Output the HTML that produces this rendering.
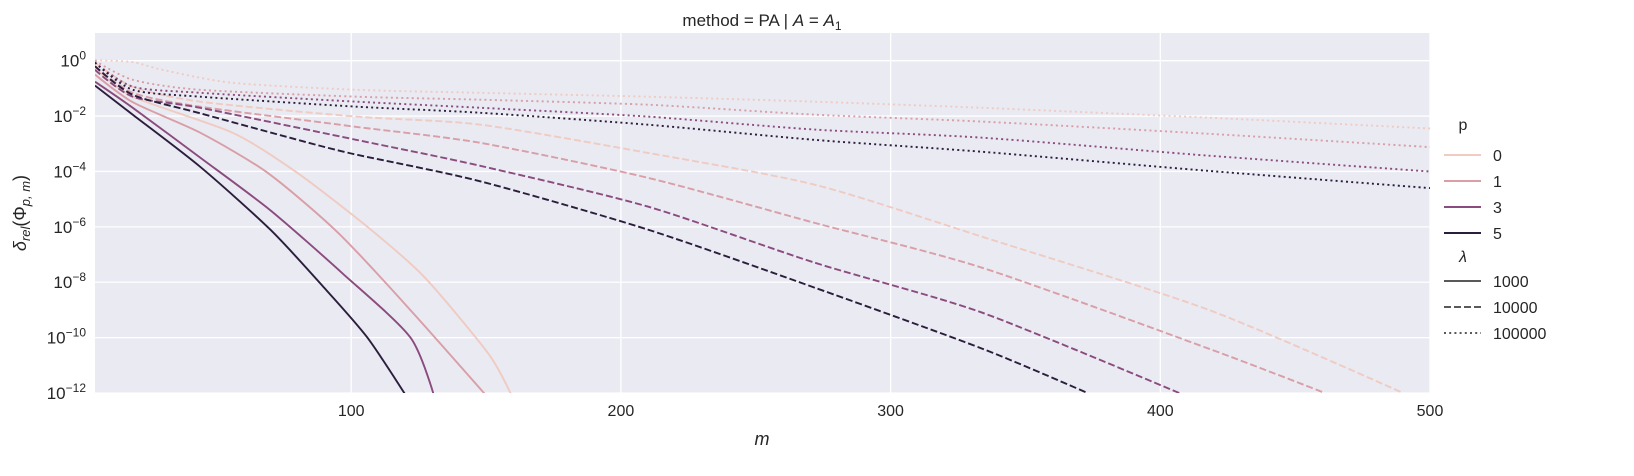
<!DOCTYPE html>
<html><head><meta charset="utf-8"><style>
body{margin:0;background:#fff;}
svg{display:block;font-family:"Liberation Sans","DejaVu Sans",sans-serif;}
</style></head><body>
<svg id="chart" width="1634" height="476" viewBox="0 0 1634 476">
<rect x="95" y="33" width="1335" height="360" fill="#eaeaf2"/>
<g id="grid"></g>
<g id="lines" clip-path="url(#clip)"></g>
<defs><clipPath id="clip"><rect x="95" y="33" width="1335" height="360"/></clipPath></defs>
<g id="ticks" font-size="16" fill="#262626"></g>
<text x="762" y="26" text-anchor="middle" font-size="17" fill="#262626">method = PA | <tspan font-style="italic">A</tspan> = <tspan font-style="italic">A</tspan><tspan font-size="12" dy="4">1</tspan></text>
<text x="762" y="445" text-anchor="middle" font-size="18" font-style="italic" fill="#262626">m</text>
<text transform="translate(26,213) rotate(-90)" text-anchor="middle" font-size="18" fill="#262626"><tspan font-style="italic">δ</tspan><tspan font-style="italic" font-size="13" dy="4">rel</tspan><tspan dy="-4">(Φ</tspan><tspan font-style="italic" font-size="13" dy="4">p, m</tspan><tspan dy="-4">)</tspan></text>
<g id="legend" font-size="16" fill="#262626"></g>
</svg>
<script>
const xTicks=[100,200,300,400,500];
const yTickExps=[0,-2,-4,-6,-8,-10,-12];
const pLevels=["0","1","3","5"];
const lambdaLevels=["1000","10000","100000"];
const colors=["#efcbc2","#d99ea6","#8b4b7e","#2b1d3c"];
// solid, lambda=1000
const m_s0=[5,19,56,80,106,127,151,160];const log_s0=[-0.25,-1.3,-2.6,-4.05,-6.0,-7.8,-10.6,-12.2];
const m_s1=[5,19,44,69,95,121,151];const log_s1=[-0.5,-1.5,-2.6,-4.05,-6.2,-8.9,-12.2];
const m_s3=[5,19,44,70,97,122,131];const log_s3=[-0.76,-1.7,-3.5,-5.4,-7.7,-10.0,-12.2];
const m_s5=[5,19,44,70,90,106,121];const log_s5=[-0.9,-1.95,-3.83,-6.1,-8.2,-10.0,-12.2];
// dashed, lambda=10000
const m_d0=[5,19,44,102,148,210,272,334,418,490];const log_d0=[-0.07,-0.94,-1.48,-2.02,-2.31,-3.33,-4.48,-6.36,-9.0,-12];
const m_d1=[5,19,44,102,148,210,272,334,418,461];const log_d1=[-0.2,-1.16,-1.66,-2.39,-2.97,-4.23,-5.86,-7.48,-10.4,-12];
const m_d3=[5,19,44,102,148,210,272,334,407];const log_d3=[-0.33,-1.3,-1.7,-2.86,-3.8,-5.27,-7.3,-9.1,-12];
const m_d5=[5,19,44,76,100,148,210,272,334,373];const log_d5=[-0.2,-1.23,-1.9,-2.75,-3.35,-4.36,-6.1,-8.2,-10.4,-12];
// dotted, lambda=100000
const m_o0=[5,19,30,56,102,148,210,272,334,418,500];const log_o0=[0.02,-0.05,-0.33,-0.8,-1.05,-1.16,-1.3,-1.48,-1.7,-2.06,-2.45];
const m_o1=[5,19,44,102,148,210,272,334,418,500];const log_o1=[0,-0.69,-1.05,-1.3,-1.41,-1.59,-1.95,-2.2,-2.64,-3.12];
const m_o3=[5,19,44,102,148,210,272,334,418,500];const log_o3=[-0.07,-0.94,-1.16,-1.48,-1.7,-2.02,-2.49,-2.78,-3.43,-4.0];
const m_o5=[5,19,44,102,148,210,272,334,418,500];const log_o5=[-0.07,-1.05,-1.3,-1.66,-1.88,-2.31,-2.86,-3.29,-3.98,-4.6];

const NS="http://www.w3.org/2000/svg";
const X0=95,X1=1430,Y0=33,Y1=393,MMIN=5,MMAX=500,EMAX=1,EMIN=-12;
function xs(m){return X0+(m-MMIN)/(MMAX-MMIN)*(X1-X0);}
function ys(e){return Y0+(EMAX-e)/(EMAX-EMIN)*(Y1-Y0);}
function mk(tag,attrs,parent){const el=document.createElementNS(NS,tag);for(const k in attrs)el.setAttribute(k,attrs[k]);parent.appendChild(el);return el;}
function smoothPath(P){
  let d='M'+P[0][0].toFixed(1)+','+P[0][1].toFixed(1);
  for(let i=0;i<P.length-1;i++){
    const p0=P[Math.max(0,i-1)],p1=P[i],p2=P[i+1],p3=P[Math.min(P.length-1,i+2)];
    const t=(i===0)?0:1/8, t2=(i+1===P.length-1)?0:1/8;
    const c1=[p1[0]+(p2[0]-p0[0])*t,p1[1]+(p2[1]-p0[1])*t];
    const c2=[p2[0]-(p3[0]-p1[0])*t2,p2[1]-(p3[1]-p1[1])*t2];
    d+=' C'+c1[0].toFixed(1)+','+c1[1].toFixed(1)+' '+c2[0].toFixed(1)+','+c2[1].toFixed(1)+' '+p2[0].toFixed(1)+','+p2[1].toFixed(1);
  }
  return d;
}
const grid=document.getElementById('grid'),ticks=document.getElementById('ticks');
xTicks.forEach(t=>{
  const l=mk('line',{x1:xs(t),x2:xs(t),y1:Y0,y2:Y1,stroke:'#fff','stroke-width':1.3},grid);
  
  
  const tx=mk('text',{x:xs(t),y:416,'text-anchor':'middle'},ticks);tx.textContent=t;
  
  
});
yTickExps.forEach(e=>{
  const l=mk('line',{x1:X0,x2:X1,y1:ys(e),y2:ys(e),stroke:'#fff','stroke-width':1.3},grid);
  
  
  const tx=mk('text',{x:86,y:ys(e)+6,'text-anchor':'end','font-size':17},ticks);
  tx.innerHTML='10<tspan font-size="12" dy="-7">'+(e<0?'\u2212'+(-e):e)+'</tspan>';
  
  
});
const lines=document.getElementById('lines');
const dashes=['', '7,3', '2,3.2'];
const series=[
 [m_s0,log_s0,0,0],[m_s1,log_s1,1,0],[m_s3,log_s3,2,0],[m_s5,log_s5,3,0],
 [m_d0,log_d0,0,1],[m_d1,log_d1,1,1],[m_d3,log_d3,2,1],[m_d5,log_d5,3,1],
 [m_o0,log_o0,0,2],[m_o1,log_o1,1,2],[m_o3,log_o3,2,2],[m_o5,log_o5,3,2]];
series.forEach(([ms,ls,c,d])=>{
  const P=ms.map((m,i)=>[xs(m),ys(ls[i])]);
  const a={d:smoothPath(P),fill:'none',stroke:colors[c],'stroke-width':1.9,'stroke-linejoin':'round'};
  if(dashes[d])a['stroke-dasharray']=dashes[d];
  const p=mk('path',a,lines);
  
  
});
const lg=document.getElementById('legend');
let t=mk('text',{x:1463,y:130,'text-anchor':'middle'},lg);t.textContent='p';


pLevels.forEach((p,i)=>{
  const y=155+i*26;
  const l=mk('line',{x1:1444,x2:1481,y1:y,y2:y,stroke:colors[i],'stroke-width':1.9},lg);
  
  
  const tx=mk('text',{x:1493,y:y+6},lg);tx.textContent=p;
  
  
});
t=mk('text',{x:1463,y:262,'text-anchor':'middle','font-style':'italic'},lg);t.textContent='λ';


lambdaLevels.forEach((v,i)=>{
  const y=281+i*26;
  const a={x1:1444,x2:1481,y1:y,y2:y,stroke:'#222','stroke-width':1.6};
  if(dashes[i])a['stroke-dasharray']=dashes[i];
  const l=mk('line',a,lg);
  
  
  const tx=mk('text',{x:1493,y:y+6},lg);tx.textContent=v;
  
  
});
</script>
</body></html>
